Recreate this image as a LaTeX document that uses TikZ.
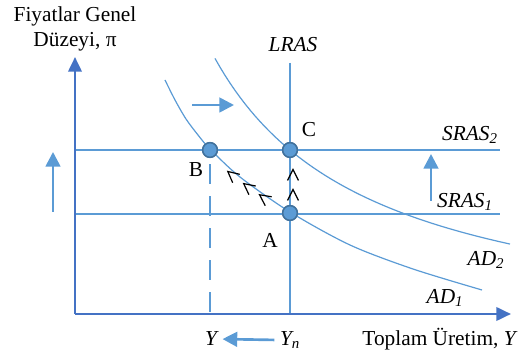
\documentclass[tikz,border=0pt]{standalone}
\usepackage{fontspec}
\setmainfont{Liberation Serif}
\usetikzlibrary{arrows.meta,positioning,calc}
\definecolor{cLine}{HTML}{5B9BD5}
\definecolor{cAxis}{HTML}{4472C4}
\definecolor{cDotL}{HTML}{41719C}
\tikzset{
  axisline/.style={draw=cAxis,line width=2pt,-{Triangle[length=11pt,width=10pt]}},
  curve/.style={draw=cLine,line width=0.9pt},
  dropline/.style={curve,dash pattern=on 15pt off 9pt},
  shiftarrow/.style={draw=cLine,line width=2pt,-{Triangle[length=11pt,width=11pt]}},
  dot/.style={circle,fill=cLine,draw=cDotL,line width=1.1pt,minimum size=11pt,inner sep=0pt},
  chevron/.style={draw=black,line width=0.9pt,line join=miter},
  lab/.style={font=\fontsize{16}{18.5}\selectfont,inner sep=1pt},
  ilab/.style={lab,font=\fontsize{16}{18.5}\selectfont\itshape},
}
\newcommand{\chev}[3]{%
  \draw[chevron,rotate around={#3:(#1,#2)}] (#1-5.5,#2+5.5) -- (#1,#2-5.5) -- (#1+5.5,#2+5.5);}

\begin{document}
\begin{tikzpicture}[x=0.75pt,y=-0.75pt]
  \useasboundingbox (0,0) rectangle (528,352);

  % axes
  \coordinate (O) at (75,314);
  \coordinate (yTop) at (75,57);
  \coordinate (xEnd) at (511,314);
  \coordinate (lrasTop) at (290,63);
  \coordinate (s1End) at (500,214);
  \coordinate (s2End) at (500,150);

  % equilibrium points
  \node[dot] (B) at (210,150) {};
  \node[dot] (C) at (290,150) {};
  \node[dot] (A) at (290,213) {};

  % SRAS, LRAS and the drop line
  \draw[curve] (O |- s2End) -- (s2End);
  \draw[curve] (O |- s1End) -- (s1End);
  \draw[curve] (lrasTop) -- (lrasTop |- O);
  \draw[dropline] ($(B.south)+(0,6)$) -- (B |- O);

  % AD curves
  \draw[curve] plot[smooth] coordinates
    {(165,80) (175,100) (186,119) (198,135) (210,149) (240,177)
     (290,212) (350,245) (413,269) (482,290)};
  \draw[curve,domain=215:510,samples=60] plot (\x,{343.9-453.04/((\x-56.3)/100)});

  \draw[axisline] (O) -- (yTop);
  \draw[axisline] (O) -- (xEnd);

  % points on top of the lines
  \node[dot] at (B) {};
  \node[dot] at (C) {};
  \node[dot] at (A) {};

  % movement marks
  \chev{232}{175}{50}
  \chev{248}{187}{52}
  \chev{264}{198}{54}
  \chev{293}{175}{0}
  \chev{293}{195}{0}

  % shift arrows
  \coordinate (adFrom) at (192,105);
  \coordinate (adTo) at (234,105);
  \draw[shiftarrow] (adFrom) -- (adTo);
  \coordinate (srasFrom) at (431,201);
  \coordinate (srasTo) at (431,154);
  \draw[shiftarrow] (srasFrom) -- (srasTo);
  \coordinate (piFrom) at (53,212);
  \coordinate (piTo) at (53,152);
  \draw[shiftarrow] (piFrom) -- (piTo);

  % labels
  \node[lab,align=center] (yname) at (75,29) {Fiyatlar Genel\\Düzeyi, π};
  \node[ilab] (lras) at (293,45) {LRAS};
  \node[lab] (cLab) at (309,130) {C};
  \node[lab] (bLab) at (196,170) {B};
  \node[lab] (aLab) at (270,240) {A};
  \node[ilab] (sras2) at (470,135) {SRAS\textsubscript{2}};
  \node[ilab] (sras1) at (465,202) {SRAS\textsubscript{1}};
  \node[ilab] (ad2) at (486,260) {AD\textsubscript{2}};
  \node[ilab] (ad1) at (445,298) {AD\textsubscript{1}};
  \node[lab] (xname) at (440,339) {Toplam Üretim, \textit{Y}};
  \node[ilab] (ylab) at (211,339) {Y};
  \node[ilab] (yn) at (290,340) {Y\textsubscript{n}};
  \draw[shiftarrow,shorten >=3pt,shorten <=3pt] (yn.west) -- (ylab.east);
\end{tikzpicture}
\end{document}
